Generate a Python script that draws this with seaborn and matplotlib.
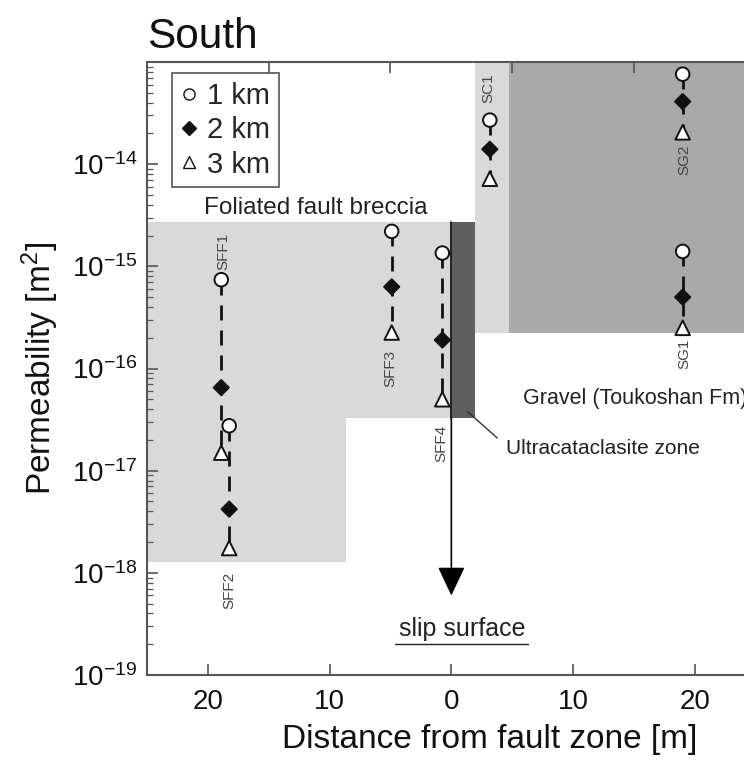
import numpy as np
import pandas as pd
import matplotlib
matplotlib.use("Agg")
import matplotlib.pyplot as plt
import seaborn as sns
from matplotlib.lines import Line2D
from matplotlib.ticker import FixedLocator, FuncFormatter, LogLocator, NullFormatter

# ---------------- data ----------------
samples = ["SFF1", "SFF2", "SFF3", "SFF4", "SC1", "SG2", "SG1"]
sample_x = [-18.9, -18.25, -4.9, -0.74, 3.16, 19.0, 19.0]
perm_1km = [7.4e-16, 2.75e-17, 2.2e-15, 1.35e-15, 2.7e-14, 7.6e-14, 1.4e-15]
perm_2km = [6.5e-17, 4.2e-18, 6.3e-16, 1.9e-16, 1.4e-14, 4.1e-14, 5.0e-16]
perm_3km = [1.5e-17, 1.75e-18, 2.25e-16, 5.0e-17, 7.2e-15, 2.05e-14, 2.5e-16]
depth_labels = ["1 km", "2 km", "3 km"]

# sample label positions (rotated text)
label_x = [-18.7, -18.2, -5.0, -0.8, 3.0, 19.1, 19.1]
label_y = [1.4e-15, 6.8e-19, 1.0e-16, 1.85e-17, 5.5e-14, 1.1e-14, 1.4e-16]

# geological zones: x0, x1, k_low, k_high
zone_x0 = [-25, -8.66, 0.08, 1.93, 4.72]
zone_x1 = [-8.66, 0.08, 1.93, 4.72, 25]
zone_lo = [1.29e-18, 3.3e-17, 3.3e-17, 2.24e-16, 2.24e-16]
zone_hi = [2.7e-15, 2.7e-15, 2.7e-15, 1e-13, 1e-13]
zone_col = ["#d9d9d9", "#d9d9d9", "#5f5f5f", "#d9d9d9", "#a9a9a9"]

x_ticks = [-20, -10, 0, 10, 20]
x_tick_labels = ["20", "10", "0", "10", "20"]
y_ticks = [1e-19, 1e-18, 1e-17, 1e-16, 1e-15, 1e-14, 1e-13]

# ---------------- style ----------------
sns.set_style("white")
plt.rcParams["font.family"] = ["Liberation Sans", "DejaVu Sans"]
plt.rcParams["mathtext.fontset"] = "custom"
plt.rcParams["mathtext.rm"] = "Liberation Sans"
plt.rcParams["mathtext.it"] = "Liberation Sans:italic"
plt.rcParams["mathtext.bf"] = "Liberation Sans:bold"

fig = plt.figure(figsize=(7.44, 7.63), dpi=100)
ax = fig.add_axes([147 / 744, 88 / 763, 608.7 / 744, 613 / 763])
ax.set_yscale("log")
ax.set_xlim(-25, 25)
ax.set_ylim(1e-19, 1e-13)

# zones
for x0, x1, lo, hi, c in zip(zone_x0, zone_x1, zone_lo, zone_hi, zone_col):
    ax.fill_between([x0, x1], [lo, lo], [hi, hi], color=c, lw=0, zorder=0)

# long-format data frame
rows = []
for s, x, a, b, c in zip(samples, sample_x, perm_1km, perm_2km, perm_3km):
    for d, k in zip(depth_labels, [a, b, c]):
        rows.append(dict(sample=s, x=x, depth=d, k=k))
df = pd.DataFrame(rows)

# dashed connectors
for s in samples:
    sub = df[df["sample"] == s]
    sns.lineplot(data=sub, x="x", y="k", ax=ax, color="#111111", lw=2.0,
                 linestyle=(0, (5.4, 3.6)), estimator=None, sort=False,
                 legend=False, zorder=2)

# markers
sns.scatterplot(data=df, x="x", y="k", hue="depth", style="depth", size="depth",
                markers={"1 km": "o", "2 km": "D", "3 km": "^"},
                palette={"1 km": "white", "2 km": "#111111", "3 km": "white"},
                sizes={"1 km": 95, "2 km": 60, "3 km": 110},
                edgecolor="#111111", linewidth=1.4, ax=ax, legend=False,
                zorder=3)

# sample labels
for s, x, y in zip(samples, label_x, label_y):
    ax.text(x, y, s, rotation=90, ha="center", va="center",
            fontsize=11, color="#444444", zorder=4)

# slip surface arrow
ax.plot([0, 0], [2.7e-15, 3.3e-17], color="black", lw=1.2, zorder=2)
ax.annotate("", xy=(0, 6.0e-19), xytext=(0, 3.3e-17),
            arrowprops=dict(arrowstyle="-|>,head_width=0.85,head_length=1.8",
                            mutation_scale=10, color="black", lw=1.2,
                            shrinkA=0, shrinkB=0), zorder=3)
ax.text(0.9, 2.8e-19, "slip surface", ha="center", va="center",
        fontsize=18, color="#222222")
ax.plot([-4.6, 6.3], [2.0e-19, 2.0e-19], color="#222222", lw=1.0)

# annotations
ax.text(-11.1, 3.7e-15, "Foliated fault breccia", ha="center", va="center",
        fontsize=17.5, color="#222222")
ax.text(5.85, 5.1e-17, "Gravel (Toukoshan Fm)", ha="left", va="center",
        fontsize=15.5, color="#222222")
ax.text(4.45, 1.66e-17, "Ultracataclasite zone", ha="left", va="center",
        fontsize=15, color="#222222")
ax.plot([1.31, 3.77], [10 ** -16.42, 10 ** -16.68], color="#333333", lw=1.0)

# axes formatting
ax.xaxis.set_major_locator(FixedLocator(x_ticks))
ax.set_xticklabels(x_tick_labels)
ax.yaxis.set_major_locator(FixedLocator(y_ticks))
ax.yaxis.set_minor_locator(LogLocator(base=10, subs=np.arange(2, 10), numticks=20))
ax.yaxis.set_minor_formatter(NullFormatter())
ax.yaxis.set_major_formatter(FuncFormatter(
    lambda v, p: "" if round(np.log10(v)) > -14 else r"10$^{%d}$" % round(np.log10(v))))
ax.tick_params(axis="both", which="major", direction="in", length=8, width=1.2,
               labelsize=20, colors="#555555", labelcolor="#111111", pad=7)
ax.tick_params(axis="x", which="major", pad=10)
ax.tick_params(axis="y", which="minor", direction="in", length=4, width=0.9,
               colors="#555555")
ax.tick_params(axis="y", which="both", left=True)
ax.tick_params(axis="x", which="both", bottom=True)

# top ticks
secx = ax.secondary_xaxis("top")
secx.xaxis.set_major_locator(FixedLocator([-15, -5, 5, 15]))
secx.tick_params(direction="in", length=8, width=1.2, colors="#555555",
                 labeltop=False, top=True)
secx.spines["top"].set_visible(False)

for side in ["left", "bottom", "top"]:
    ax.spines[side].set_color("#555555")
    ax.spines[side].set_linewidth(1.5)
ax.spines["right"].set_visible(False)

ax.set_xlabel("Distance from fault zone [m]", fontsize=24, color="#111111")
ax.xaxis.set_label_coords(0.5635, -0.106)
ax.xaxis.label.set_va("center")
ax.set_ylabel("Permeability [m$^2$]", fontsize=24, color="#111111", labelpad=8)
ax.set_title("South", loc="left", fontsize=30.5, color="#111111", pad=10)

# legend
handles = [
    Line2D([], [], marker="o", ls="none", mfc="white", mec="#111111", ms=8, mew=1.0),
    Line2D([], [], marker="D", ls="none", mfc="#111111", mec="#111111", ms=7),
    Line2D([], [], marker="^", ls="none", mfc="white", mec="#111111", ms=8, mew=1.0),
]
leg = ax.legend(handles, depth_labels, loc="upper left",
                bbox_to_anchor=(0.041, 0.982), borderaxespad=0,
                fontsize=21, handlelength=0.6, handletextpad=0.3,
                labelspacing=0.22, borderpad=0.3, fancybox=False,
                framealpha=1, edgecolor="#555555")
leg.get_frame().set_linewidth(1.2)

fig.savefig("out.png", dpi=100)
